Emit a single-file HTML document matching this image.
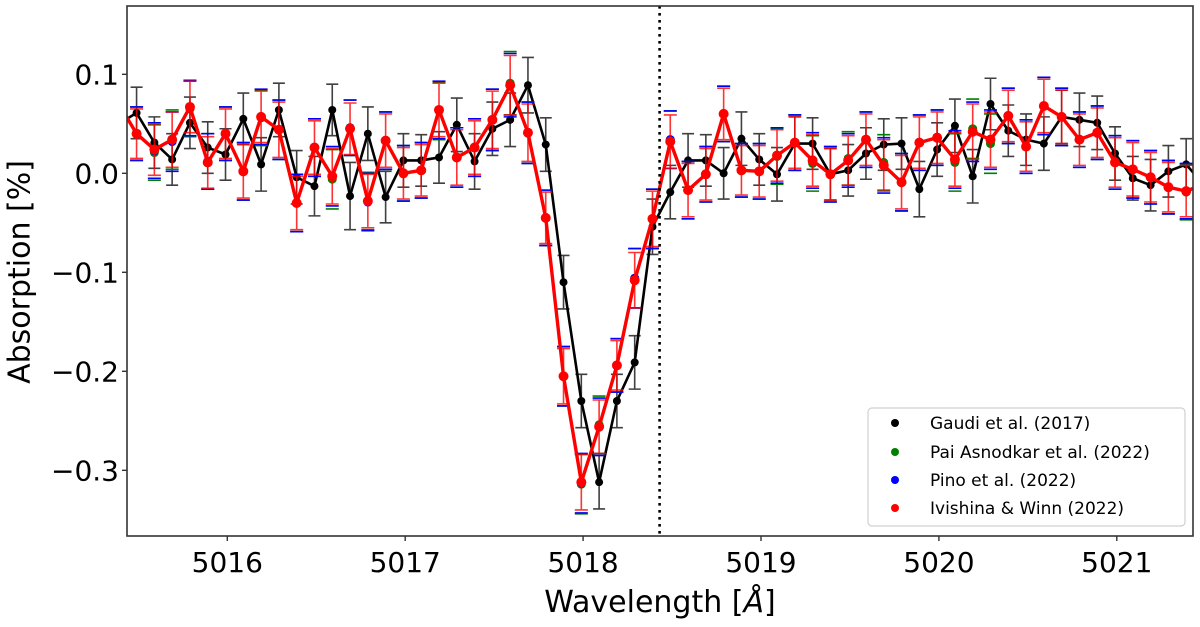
<!DOCTYPE html>
<html><head><meta charset="utf-8"><style>
html,body{margin:0;padding:0;background:#fff;}
svg{display:block;font-family:"DejaVu Sans","Liberation Sans",sans-serif;}
</style></head><body>
<svg id="chart" width="1200" height="627" viewBox="0 0 1200 627" xmlns="http://www.w3.org/2000/svg">
<defs><clipPath id="plotclip"><rect x="127" y="6" width="1066" height="530"/></clipPath></defs>
<g id="plot" clip-path="url(#plotclip)"></g>
<rect x="127" y="6" width="1066" height="530" fill="none" stroke="#333" stroke-width="1.6"/>
<g id="axes"></g>
<text x="20" y="272" font-size="30" text-anchor="middle" transform="rotate(-90 20 272)" dominant-baseline="central">Absorption [%]</text>
<text x="660" y="612" font-size="30" text-anchor="middle">Wavelength [<tspan font-style="italic">Å</tspan>]</text>
<g>
<rect x="868" y="408" width="317" height="118" rx="4" fill="#fff" fill-opacity="0.85" stroke="#d0d0d0" stroke-width="1.2"/>
<g><circle cx="895" cy="423" r="4" fill="#000"/><text x="930" y="429" font-size="17">Gaudi et al. (2017)</text></g>
<g><circle cx="895" cy="452" r="4" fill="green"/><text x="930" y="458" font-size="17">Pai Asnodkar et al. (2022)</text></g>
<g><circle cx="895" cy="480" r="4" fill="blue"/><text x="930" y="486" font-size="17">Pino et al. (2022)</text></g>
<g><circle cx="895" cy="508" r="4" fill="red"/><text x="930" y="514" font-size="17">Ivishina &amp; Winn (2022)</text></g>
</g>
</svg>
<script>
const startWl = 5015.39;
const stepWl = 0.1;
const gaudi = [0.05,0.061,0.031,0.014,0.051,0.026,0.019,0.055,0.009,0.064,-0.004,-0.013,0.064,-0.023,0.040,-0.024,0.013,0.013,0.016,0.049,0.012,0.045,0.054,0.089,0.029,-0.110,-0.230,-0.312,-0.230,-0.191,-0.054,-0.019,0.013,0.013,0.000,0.035,0.014,-0.001,0.030,0.030,-0.001,0.003,0.020,0.029,0.030,-0.016,0.024,0.048,-0.003,0.070,0.043,0.034,0.030,0.057,0.054,0.051,0.020,-0.005,-0.012,0.002,0.009,-0.012];
const ivishina = [0.07,0.040,0.024,0.034,0.067,0.011,0.040,0.002,0.057,0.044,-0.030,0.026,-0.003,0.045,-0.028,0.033,0.000,0.003,0.064,0.016,0.026,0.054,0.089,0.041,-0.045,-0.205,-0.312,-0.256,-0.194,-0.108,-0.046,0.032,-0.017,-0.001,0.060,0.003,0.002,0.018,0.031,0.013,-0.001,0.013,0.034,0.008,-0.009,0.031,0.036,0.014,0.042,0.034,0.058,0.027,0.068,0.057,0.034,0.041,0.011,0.004,-0.004,-0.014,-0.018,-0.011];
const pai = [0.07,0.040,0.021,0.034,0.065,0.012,0.040,0.002,0.056,0.044,-0.030,0.026,-0.006,0.046,-0.028,0.033,0.000,0.003,0.063,0.016,0.026,0.054,0.091,0.041,-0.045,-0.205,-0.314,-0.254,-0.194,-0.106,-0.046,0.034,-0.017,-0.001,0.060,0.003,0.002,0.017,0.031,0.010,-0.001,0.015,0.034,0.011,-0.009,0.031,0.036,0.011,0.045,0.030,0.058,0.027,0.068,0.057,0.034,0.041,0.011,0.004,-0.004,-0.014,-0.019,-0.011];
const pino = [0.07,0.040,0.023,0.032,0.066,0.012,0.040,0.002,0.057,0.044,-0.030,0.026,-0.003,0.046,-0.029,0.033,0.000,0.003,0.064,0.016,0.026,0.054,0.089,0.041,-0.045,-0.205,-0.313,-0.256,-0.194,-0.106,-0.046,0.034,-0.017,-0.001,0.060,0.003,0.002,0.018,0.031,0.013,-0.001,0.013,0.034,0.008,-0.009,0.031,0.036,0.014,0.042,0.034,0.058,0.027,0.068,0.057,0.034,0.041,0.011,0.004,-0.004,-0.014,-0.018,-0.011];
const gaudiErr = [0.026,0.026,0.026,0.026,0.026,0.026,0.026,0.026,0.027,0.027,0.027,0.030,0.026,0.034,0.027,0.026,0.027,0.026,0.026,0.027,0.028,0.027,0.027,0.028,0.027,0.027,0.027,0.027,0.027,0.027,0.028,0.027,0.027,0.026,0.026,0.027,0.026,0.027,0.027,0.026,0.026,0.026,0.026,0.026,0.026,0.028,0.027,0.027,0.027,0.026,0.026,0.026,0.027,0.027,0.027,0.027,0.027,0.022,0.026,0.026,0.026,0.026];
const ivishinaErr = [0.028,0.025,0.026,0.028,0.026,0.026,0.025,0.027,0.026,0.028,0.027,0.027,0.028,0.026,0.027,0.027,0.026,0.026,0.027,0.028,0.027,0.029,0.030,0.029,0.026,0.028,0.028,0.027,0.025,0.028,0.028,0.027,0.027,0.026,0.026,0.025,0.026,0.026,0.026,0.026,0.026,0.025,0.026,0.026,0.027,0.026,0.026,0.027,0.028,0.028,0.026,0.025,0.027,0.027,0.026,0.025,0.025,0.027,0.025,0.025,0.026,0.026];
const xTicks = [5016,5017,5018,5019,5020,5021];
const yTicks = [0.1,0.0,-0.1,-0.2,-0.3];
const yTickLabels = ["0.1","0.0","\u22120.1","\u22120.2","\u22120.3"];
const markerLine = 5018.43;

const NS = "http://www.w3.org/2000/svg";
const X = w => 227.3 + (w - 5016) * 177.9;
const Y = v => 173.3 - v * 990;
const wl = i => startWl + i * stepWl;
function mk(tag, attrs, parent){const e=document.createElementNS(NS,tag);for(const k in attrs)e.setAttribute(k,attrs[k]);parent.appendChild(e);return e;}
const plot = document.getElementById('plot');
const axes = document.getElementById('axes');

function series(vals, errs, color, lw, r, capw, errOpacity, name, drawLine, capsOnly){
  const g = mk('g',{},plot);
  
  
  vals.forEach((v,i)=>{
    const x=X(wl(i)), y1=Y(v+errs[i]), y2=Y(v-errs[i]);
    const d = (capsOnly ? '' : `M${x},${y1}V${y2}`) + `M${x-capw},${y1}H${x+capw}M${x-capw},${y2}H${x+capw}`;
    const eb = mk('path',{d:d,stroke:color,'stroke-width':1.6,'stroke-opacity':errOpacity,fill:'none'},g);
    
    
  });
  if(drawLine){
    const pl = mk('polyline',{points:vals.map((v,i)=>X(wl(i))+','+Y(v)).join(' '),fill:'none',stroke:color,'stroke-width':lw,'stroke-linejoin':'round'},g);
    
    
  }
  vals.forEach((v,i)=>{
    const c = mk('circle',{cx:X(wl(i)),cy:Y(v),r:r,fill:color},g);
    
    
  });
}
series(gaudi, gaudiErr, '#000', 2.6, 4, 6, 0.75, 'gaudi-series', true, false);
series(pai, ivishinaErr.map(e=>e+0.002), 'green', 1.5, 4.5, 6.5, 1, 'pai-asnodkar-series', false, true);
series(pino, ivishinaErr.map(e=>e+0.002), 'blue', 1.5, 4.5, 6.5, 1, 'pino-series', false, true);
series(ivishina, ivishinaErr, 'red', 3.4, 5, 6.5, 0.8, 'ivishina-winn-series', true, false);

const dl = mk('line',{x1:X(markerLine),x2:X(markerLine),y1:6,y2:536,stroke:'#000','stroke-width':2.6,'stroke-dasharray':'2.6 4.4'},plot);



xTicks.forEach(t=>{
  const x=X(t);
  const tk = mk('line',{x1:x,x2:x,y1:536,y2:541,stroke:'#333','stroke-width':1.4},axes);
  
  
  const tx = mk('text',{x:x,y:572,'font-size':28,'text-anchor':'middle'},axes);
  tx.textContent = String(t);
  
  
});
yTicks.forEach((t,i)=>{
  const y=Y(t);
  const tk = mk('line',{x1:122,x2:127,y1:y,y2:y,stroke:'#333','stroke-width':1.4},axes);
  
  
  const tx = mk('text',{x:119,y:y+10,'font-size':28,'text-anchor':'end'},axes);
  tx.textContent = yTickLabels[i];
  
  
});
</script>
</body></html>
